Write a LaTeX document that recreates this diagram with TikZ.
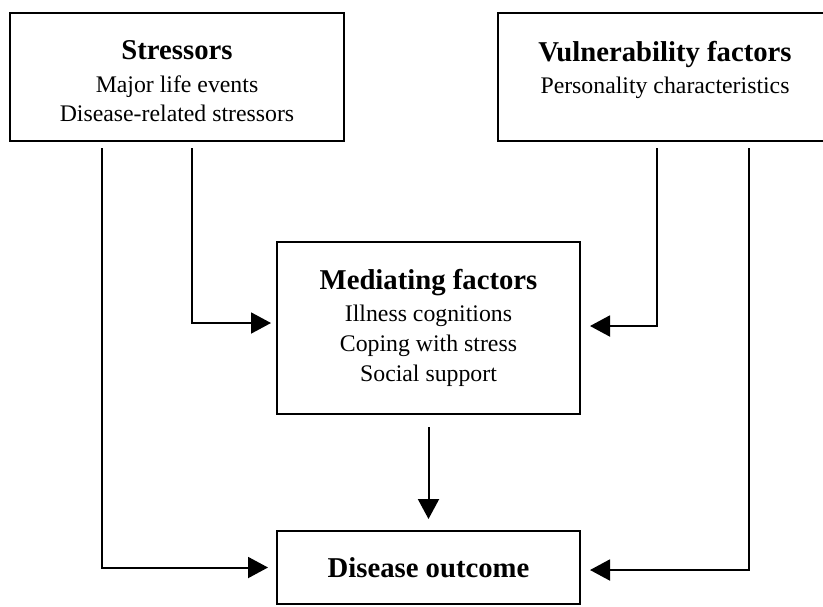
\documentclass[tikz,border=0pt]{standalone}
\usepackage{fontspec}
\setmainfont{Liberation Serif}
\usepackage{tikz}
\usetikzlibrary{arrows.meta,positioning,calc}
\newcommand{\hd}[1]{{\fontsize{24.5}{27}\selectfont\bfseries #1}}

\begin{document}
\begin{tikzpicture}[x=0.03cm,y=-0.03cm,line width=1.7pt,
  font=\fontsize{20.3}{25.5}\selectfont,>={Triangle[length=0.6cm,width=0.63cm]},
  box/.style={draw,align=center,inner sep=0pt}]
  \useasboundingbox (0,0) rectangle (823,606);
  \node (str) [box,minimum width=10.02cm,minimum height=3.84cm] at (177,77)
    {\rule{0pt}{24pt}\hd{Stressors}\\[2pt] Major life events\\ Disease-related stressors};
  \node (vul) [box,minimum width=10.02cm,minimum height=3.84cm] at (665,77)
    {\rule{0pt}{34pt}\hd{Vulnerability factors}\\[2pt] Personality characteristics\\ \strut};
  \node (med) [box,minimum width=9.09cm,minimum height=5.16cm] at (428.5,328)
    {\hd{Mediating factors}\\[2pt] Illness cognitions\\ Coping with stress\\ Social support};
  \node (out) [box,minimum width=9.09cm,minimum height=2.19cm] at (428.5,567.5)
    {\hd{Disease outcome}};
  \draw[->,shorten <=0.18cm,shorten >=0.24cm] ($(str.south)+(-75,0)$) |- (out.west);
  \draw[->,shorten <=0.18cm,shorten >=0.15cm] ($(str.south)+(15,0)$) |- ($(med.west)+(0,-5)$);
  \draw[->,shorten <=0.18cm,shorten >=0.27cm] ($(vul.south)+(-8,0)$) |- ($(med.east)+(0,-2)$);
  \draw[->,shorten <=0.18cm,shorten >=0.27cm] ($(vul.south)+(84,0)$) |- ($(out.east)+(0,2.5)$);
  \draw[->,shorten <=0.36cm,shorten >=0.33cm] (med.south) -- (out.north);
\end{tikzpicture}
\end{document}
